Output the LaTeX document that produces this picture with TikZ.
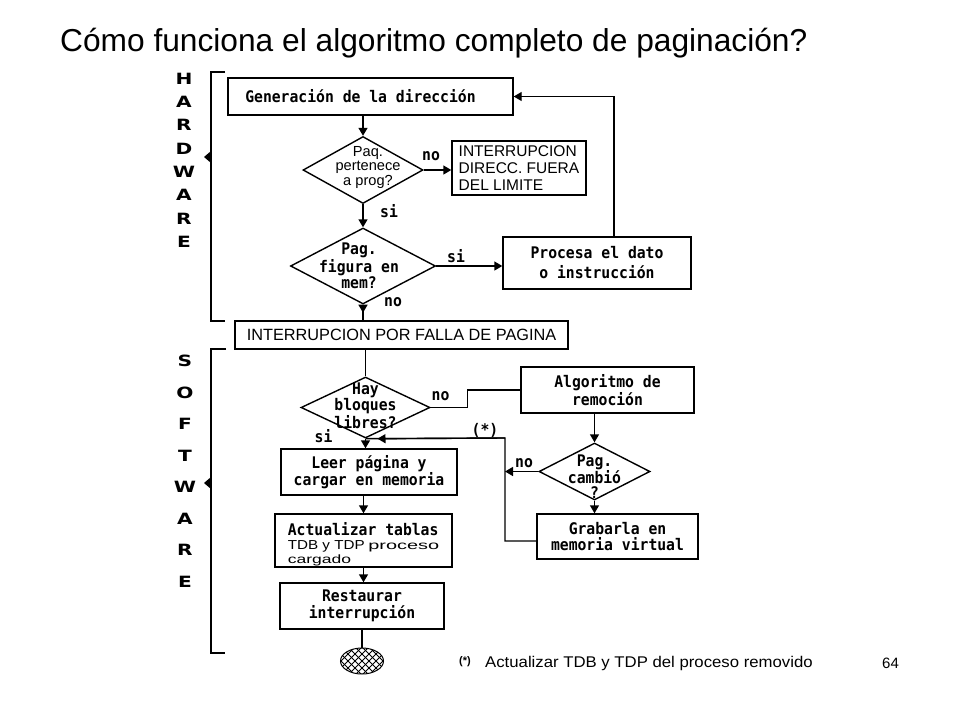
\documentclass[tikz,border=0pt]{standalone}
\usepackage{fontspec}
\setmainfont{Liberation Sans}
\newfontfamily\pixfam[FakeStretch=0.92]{DejaVu Sans Mono}
\newfontfamily\letfam[FakeStretch=1.3]{DejaVu Sans}
\usetikzlibrary{shapes.geometric,arrows.meta}
\begin{document}
\begin{tikzpicture}[x=1pt,y=-1pt,
  ln/.style={line width=1.4pt},
  arr/.style={ln,-{Triangle[length=8pt,width=9pt]}},
  pix/.style={font=\pixfam\bfseries\fontsize{16}{#1}\selectfont},
  pix/.default=15,
  box/.style={draw,line width=1.4pt,inner sep=0pt,align=center},
  dia/.style={draw,diamond,line width=1.4pt,inner sep=0pt},
  lbl/.style={pix,anchor=base,inner sep=0pt},
  letter/.style={font=\letfam\bfseries\fontsize{15.5}{15.5}\selectfont,inner sep=0pt}
]
\fill[white] (0,0) rectangle (960,720);
\useasboundingbox (0,0) rectangle (960,720);

% title and page number
\node[anchor=base west,inner sep=0pt,font=\fontsize{31.7}{36}\selectfont] (title) at (60,51) {Cómo funciona el algoritmo completo de paginación?};
\node[anchor=base west,inner sep=0pt,font=\fontsize{15}{15}\selectfont] (pg) at (882,668) {64};

% brackets
\draw[ln] (225,72) -- (211,72) -- (211,321) -- (225,321);
\fill (211,151) -- (204,157) -- (211,163) -- cycle;
\draw[ln] (226,349) -- (211,349) -- (211,653) -- (225,653);
\fill (211,477) -- (204,483) -- (211,489) -- cycle;
\foreach \l [count=\i from 0] in {H,A,R,D,W,A,R,E}
  \node[letter] (hw\i) at (184,78.5+23.36*\i) {\l};
\foreach \l [count=\i from 0] in {S,O,F,T,W,A,R,E}
  \node[letter] (sw\i) at (185,361+31.5*\i) {\l};

% hardware part
\node[box,minimum width=285pt,minimum height=37pt,pix] (gen) at (370.5,96.5) {\hspace*{-20pt}Generación de la dirección};
\node[dia,minimum width=120pt,minimum height=67pt,
  label={[font=\fontsize{14.6}{14.5}\selectfont,align=center,xshift=5pt,yshift=3pt]center:{Paq.\\pertenece\\a prog?}}] (d1) at (363,170) {};
\node[box,minimum width=134pt,minimum height=54pt,align=left,font=\fontsize{15.5}{16.7}\selectfont] (intr) at (519,168) {INTERRUPCION\\DIRECC. FUERA\\DEL LIMITE};
\node[dia,minimum width=145pt,minimum height=76pt,
  label={[pix,align=center,xshift=-4pt]center:{Pag.\\figura en\\mem?}}] (d2) at (363,266) {};
\node[box,minimum width=188pt,minimum height=52pt,pix=20] (proc) at (597,263) {Procesa el dato\\o instrucción};
\node[box,line width=2.8pt,minimum width=333pt,minimum height=28pt,font=\fontsize{16.3}{18}\selectfont] (falla) at (401.5,335) {INTERRUPCION POR FALLA DE PAGINA};

% software part
\node[dia,minimum width=129pt,minimum height=61pt,
  label={[pix=14,align=center,yshift=2pt]center:{Hay\\bloques\\libres?}}] (d3) at (365.5,407.5) {};
\node[box,minimum width=173pt,minimum height=46pt,pix=18] (algo) at (607.5,390) {Algoritmo de\\remoción};
\node[dia,minimum width=111pt,minimum height=57pt,
  label={[pix=14.5,align=center,yshift=-5pt]center:{Pag.\\cambió\\?}}] (d4) at (594.5,471.5) {};
\node[box,minimum width=161pt,minimum height=45pt,pix=15.5] (grab) at (617.5,536.5) {Grabarla en\\memoria virtual};
\node[box,minimum width=176pt,minimum height=46pt,pix=17] (leer) at (369,472) {Leer página y\\cargar en memoria};
\node[box,minimum width=177pt,minimum height=53pt,align=left,font=\fontsize{13}{14}\selectfont] (act) at (363.5,540.5)
  {\rule{0pt}{20pt}{\pixfam\bfseries\fontsize{16}{14}\selectfont Actualizar tablas}\\
   \scalebox{1.17}[1]{TDB y TDP} \scalebox{1.66}[1]{\fontsize{12}{14}\selectfont proceso}\\
   \scalebox{1.46}[1]{\fontsize{12}{14}\selectfont cargado}};
\node[box,minimum width=164pt,minimum height=46pt,pix=17] (rest) at (362,606) {Restaurar\\interrupción};
\node[draw,ellipse,line width=1pt,minimum width=43pt,minimum height=26pt,inner sep=0pt,
  path picture={\foreach \k in {-6,...,6}{
     \draw[line width=0.8pt] ([xshift=\k*7pt]path picture bounding box.center) ++(-30pt,-30pt) -- ++(60pt,60pt);
     \draw[line width=0.8pt] ([xshift=\k*7pt]path picture bounding box.center) ++(-30pt,30pt) -- ++(60pt,-60pt);}}] (fin) at (362,661) {};

% footnote
\node[anchor=base west,inner sep=0pt,font=\bfseries\fontsize{11}{11}\selectfont] (fstar) at (459,664) {(*)};
\node[anchor=base west,inner sep=0pt,font=\fontsize{15.5}{15.5}\selectfont] (foot) at (485,667) {\scalebox{1.08}[1]{Actualizar TDB y TDP del proceso removido}};

% labels
\node[lbl] (no1) at (431,160) {no};
\node[lbl] (si1) at (389,217) {si};
\node[lbl] (si2) at (456,262) {si};
\node[lbl] (no2) at (393,306) {no};
\node[lbl] (no3) at (440.5,400) {no};
\node[lbl] (si3) at (323.5,442) {si};
\node[lbl] (no4) at (524,467) {no};
\node[lbl] (ast) at (485,435) {(*)};

% connectors
\draw[arr] (d1.north |- gen.south) -- (d1.north);
\draw[arr] (d1.east) -- (d1.east -| intr.west);
\draw[arr] (d1.south) -- (d2.north);
\draw[arr] (d2.east) -- (d2.east -| proc.west);
\draw[arr] ([xshift=17pt]proc.north) |- (gen.east);
\draw[ln] (d2.south) -- (d2.south |- falla.north);
\draw[arr] (d2.south) -- ++(0,8);
\draw[ln] (d3.north |- falla.south) -- (d3.north);
\draw[ln] (d3.east) -- ++(37,0) |- (algo.west);
\draw[arr] (d3.south) -- (d3.south |- leer.north);
\draw[arr] (act.north |- leer.south) -- (act.north);
\draw[arr] (act.south) -- (act.south |- rest.north);
\draw[ln] (rest.south) -- (fin.north);
\draw[arr] (d4.north |- algo.south) -- (d4.north);
\draw[arr] (d4.south) -- (d4.south |- grab.north);
\coordinate (jn) at (505,438);
\draw[arr] (d4.west) -- (d4.west -| jn);
\draw[ln] ([yshift=-4.5pt]grab.west) -| (jn) -- (d3.south);
\draw[arr] (jn) -- ([xshift=12pt]d3.south);
\end{tikzpicture}
\end{document}
